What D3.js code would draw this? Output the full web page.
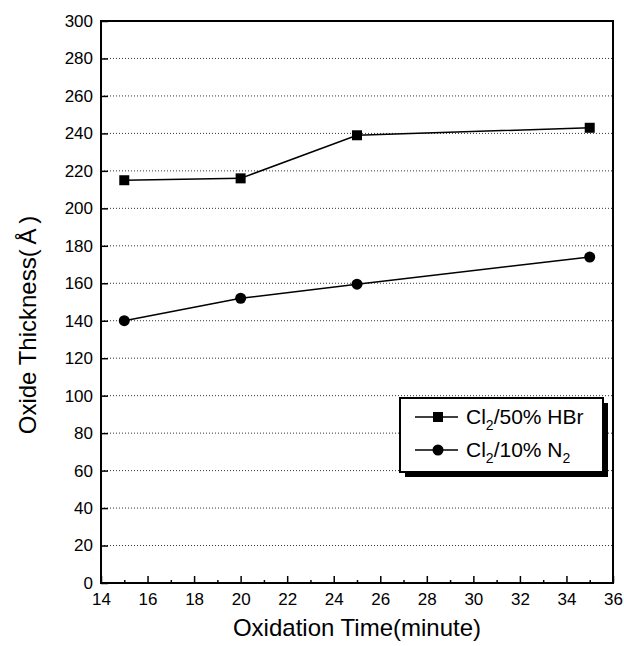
<!DOCTYPE html>
<html>
<head>
<meta charset="utf-8">
<script src="https://cdn.jsdelivr.net/npm/d3@7"></script>
<style>
  body { margin: 0; background: #fff; }
  text { font-family: "Liberation Sans", Arial, sans-serif; fill: #000; }
</style>
</head>
<body>
<div id="chart-area"></div>
<script>
// data
const times = [15, 20, 25, 35]
const hbrValues = [215, 216, 239, 243]
const n2Values = [140, 152, 159.5, 174]
const xTicks = [14, 16, 18, 20, 22, 24, 26, 28, 30, 32, 34, 36]
const yTicks = [0, 20, 40, 60, 80, 100, 120, 140, 160, 180, 200, 220, 240, 260, 280, 300]

const MARGIN = { LEFT: 101, RIGHT: 11, TOP: 21, BOTTOM: 63 }
const WIDTH = 624 - MARGIN.LEFT - MARGIN.RIGHT
const HEIGHT = 646 - MARGIN.TOP - MARGIN.BOTTOM

const svg = d3.select("#chart-area").append("svg")
  .attr("width", 624)
  .attr("height", 646)

const g = svg.append("g")
  .attr("transform", `translate(${MARGIN.LEFT}, ${MARGIN.TOP})`)

const x = d3.scaleLinear().domain([14, 36]).range([0, WIDTH])
const y = d3.scaleLinear().domain([0, 300]).range([HEIGHT, 0])

// grade pontilhada
g.selectAll(".grid")
  .data(yTicks.filter(v => v > 0 && v < 300))
  .enter().append("line")
  .attr("x1", 0).attr("x2", WIDTH)
  .attr("y1", d => y(d)).attr("y2", d => y(d))
  .attr("stroke", "#333")
  .attr("stroke-width", 1)
  .attr("stroke-dasharray", "1,2")

// eixos
const xAxis = g.append("g")
  .attr("transform", `translate(0, ${HEIGHT})`)
  .call(d3.axisBottom(x).tickValues(xTicks).tickSize(-7).tickPadding(10))
const xMinor = g.append("g")
  .attr("transform", `translate(0, ${HEIGHT})`)
  .call(d3.axisBottom(x).tickValues(d3.range(15, 36, 2)).tickSize(-3).tickFormat(""))
const yAxis = g.append("g")
  .call(d3.axisLeft(y).tickValues(yTicks).tickSize(-7).tickPadding(8))

;[xAxis, xMinor, yAxis].forEach(a => {
  a.attr("font-size", 17).attr("font-family", "Liberation Sans, Arial, sans-serif")
  a.select(".domain").remove()
  a.selectAll("line").attr("stroke", "#000").attr("stroke-width", 1.5)
  a.selectAll("text").attr("fill", "#000")
})

// moldura
g.append("rect")
  .attr("width", WIDTH).attr("height", HEIGHT)
  .attr("fill", "none").attr("stroke", "#000").attr("stroke-width", 2)

// linhas
const line = d3.line().x(d => x(d[0])).y(d => y(d[1]))
const hbr = times.map((t, i) => [t, hbrValues[i]])
const n2 = times.map((t, i) => [t, n2Values[i]])

g.append("path").attr("d", line(hbr))
  .attr("fill", "none").attr("stroke", "#000").attr("stroke-width", 1.5)
g.append("path").attr("d", line(n2))
  .attr("fill", "none").attr("stroke", "#000").attr("stroke-width", 1.5)

g.selectAll(".sq").data(hbr).enter().append("rect")
  .attr("x", d => x(d[0]) - 5).attr("y", d => y(d[1]) - 5)
  .attr("width", 10).attr("height", 10).attr("fill", "#000")
g.selectAll(".ci").data(n2).enter().append("circle")
  .attr("cx", d => x(d[0])).attr("cy", d => y(d[1]))
  .attr("r", 5.5).attr("fill", "#000")

// legenda
const legend = svg.append("g").attr("transform", "translate(400, 398)")
legend.append("rect").attr("x", 5).attr("y", 5).attr("width", 203).attr("height", 74).attr("fill", "#000")
legend.append("rect").attr("width", 203).attr("height", 74)
  .attr("fill", "#fff").attr("stroke", "#000").attr("stroke-width", 2)

const rows = [
  { y: 19, shape: "square", label: ["Cl", "2", "/50% HBr"] },
  { y: 52, shape: "circle", label: ["Cl", "2", "/10% N", "2", ""] }
]
rows.forEach(r => {
  legend.append("line").attr("x1", 15).attr("x2", 58).attr("y1", r.y).attr("y2", r.y)
    .attr("stroke", "#000").attr("stroke-width", 1.5)
  if (r.shape === "square") {
    legend.append("rect").attr("x", 33).attr("y", r.y - 5).attr("width", 10).attr("height", 10).attr("fill", "#000")
  } else {
    legend.append("circle").attr("cx", 38).attr("cy", r.y).attr("r", 5.5).attr("fill", "#000")
  }
  const t = legend.append("text").attr("x", 66).attr("y", r.y + 7).style("font-size", "21px")
  r.label.forEach((s, i) => {
    const sp = t.append("tspan").text(s)
    if (i % 2 === 1) sp.style("font-size", "14px").attr("dy", 6)
    else if (i > 0) sp.attr("dy", -6)
  })
})

// títulos dos eixos
svg.append("text")
  .attr("x", MARGIN.LEFT + WIDTH / 2).attr("y", 636)
  .attr("text-anchor", "middle").style("font-size", "24px")
  .text("Oxidation Time(minute)")
svg.append("text")
  .attr("transform", "translate(36, 325) rotate(-90)")
  .attr("text-anchor", "middle").style("font-size", "24px")
  .text("Oxide Thickness(\u2009Å\u2009)")
</script>
</body>
</html>
